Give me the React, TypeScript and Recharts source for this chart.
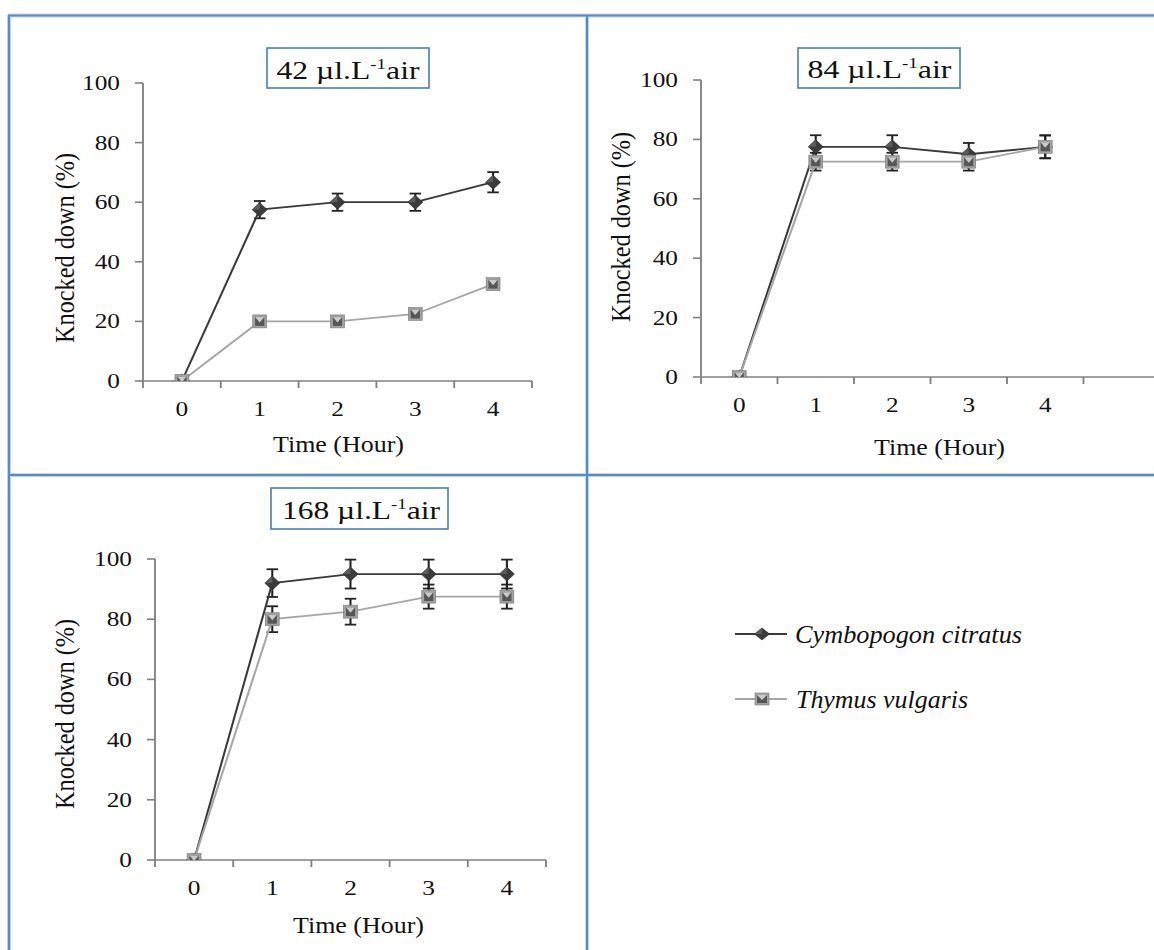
import React from "react";
import { LineChart, Line, XAxis, YAxis, ErrorBar } from "recharts";

const hours = [0, 1, 2, 3, 4];
const yTicks = [0, 20, 40, 60, 80, 100];
// excel-style tick marks sit between categories
const marks5 = [-0.5, 0.5, 1.5, 2.5, 3.5, 4.5];
const marks6 = [-0.5, 0.5, 1.5, 2.5, 3.5, 4.5, 5.5];

// 42 µl/L air
const cymb42 = [0, 57.5, 60, 60, 66.7];
const cymb42Err = [0, 2.9, 2.9, 2.9, 3.4];
const thym42 = [0, 20, 20, 22.5, 32.5];
const thym42Err = [0, 0, 0, 0, 0];

// 84 µl/L air
const cymb84 = [0, 77.5, 77.5, 75, 77.5];
const cymb84Err = [0, 3.9, 3.9, 3.8, 3.9];
const thym84 = [0, 72.5, 72.5, 72.5, 77.5];
const thym84Err = [0, 3, 3, 3, 3.8];

// 168 µl/L air
const cymb168 = [0, 92, 95, 95, 95];
const cymb168Err = [0, 4.6, 4.8, 4.8, 4.8];
const thym168 = [0, 80, 82.5, 87.5, 87.5];
const thym168Err = [0, 4.3, 4.3, 4, 4];

const SX = 1.15; // the source figure is stretched horizontally
const AXIS = "#808080";
const FRAME = "#5a8ac6";
const FONT = "Liberation Serif, Times New Roman, serif";

function diamond(cx: number, cy: number, w: number, h: number) {
  return (
    <g>
      <path d={`M${cx},${cy - h / 2} L${cx + w / 2},${cy} L${cx},${cy + h / 2} L${cx - w / 2},${cy} Z`} fill="#3b3b3b" stroke="#2a2a2a" strokeWidth={0.6} />
      <path d={`M${cx},${cy - h / 2} L${cx},${cy} L${cx - w / 2},${cy} Z`} fill="#5c5c5c" />
    </g>
  );
}

function square(cx: number, cy: number, w: number, h: number) {
  const x0 = cx - w / 2, y0 = cy - h / 2;
  return (
    <g>
      <rect x={x0} y={y0} width={w} height={h} fill="#a2a2a2" stroke="#7c7c7c" strokeWidth={0.6} />
      <rect x={x0 + 2} y={y0 + 2} width={w - 4} height={h - 4} fill="#565656" />
      <path d={`M${x0 + 2},${y0 + 2} L${x0 + w - 2},${y0 + 2} L${cx},${cy + 1} Z`} fill="#cacaca" />
    </g>
  );
}

const NoTick = () => <g />;

const YTick = (p: any) => (
  <text x={p.x} y={p.y + 7} textAnchor="end" fontSize={22} fontFamily={FONT} fill="#111">
    {p.payload.value}
  </text>
);

const XTick = (p: any) => (
  <text x={p.x} y={p.y + 34} textAnchor="middle" fontSize={22} fontFamily={FONT} fill="#111">
    {p.payload.value}
  </text>
);

interface PanelProps {
  axisX: number;
  plotRight: number;
  yTop: number;
  yBottom: number;
  marks: number[];
  cymb: number[];
  cymbErr: number[];
  thym: number[];
  thymErr: number[];
}

function Panel({ axisX, plotRight, yTop, yBottom, marks, cymb, cymbErr, thym, thymErr }: PanelProps) {
  const padL = 125, padR = 20, padT = 43, padB = 61;
  const left = axisX - padL;
  const w = (plotRight + padR - left) / SX;
  const top = yTop - padT;
  const h = yBottom - top + padB;
  const xMax = marks[marks.length - 1];
  const data = hours.map((t, i) => ({ t, c: cymb[i], ce: cymbErr[i], th: thym[i], te: thymErr[i] }));

  return (
    <div style={{ position: "absolute", left, top, width: w, height: h, transform: `scaleX(${SX})`, transformOrigin: "0 0" }}>
      <LineChart width={w} height={h} data={data} margin={{ top: padT, right: padR / SX, bottom: 12, left: 0 }}>
        <XAxis
          xAxisId="a"
          type="number"
          dataKey="t"
          domain={[-0.5, xMax]}
          ticks={marks}
          interval={0}
          tick={NoTick}
          tickSize={7}
          height={1}
          allowDataOverflow
          axisLine={{ stroke: AXIS, strokeWidth: 1.6 }}
          tickLine={{ stroke: AXIS, strokeWidth: 1.6 }}
        />
        <XAxis
          xAxisId="b"
          type="number"
          dataKey="t"
          domain={[-0.5, xMax]}
          ticks={hours}
          interval={0}
          tick={XTick}
          tickLine={false}
          axisLine={false}
          tickSize={0}
          tickMargin={0}
          height={48}
          allowDataOverflow
        />
        <YAxis
          type="number"
          domain={[0, 100]}
          ticks={yTicks}
          interval={0}
          width={padL / SX}
          tickSize={7}
          tickMargin={13}
          tick={YTick}
          allowDataOverflow
          axisLine={{ stroke: AXIS, strokeWidth: 1.6 }}
          tickLine={{ stroke: AXIS, strokeWidth: 1.6 }}
        />
        <Line
          xAxisId="a"
          dataKey="c"
          stroke="#3a3a3a"
          strokeWidth={1.8}
          isAnimationActive={false}
          activeDot={false}
          dot={(p: any) => <g key={`c${p.index}`}>{diamond(p.cx, p.cy, 13, 14)}</g>}
        >
          <ErrorBar dataKey="ce" direction="y" width={5} stroke="#222" strokeWidth={1.8} isAnimationActive={false} />
        </Line>
        <Line
          xAxisId="a"
          dataKey="th"
          stroke="#a6a6a6"
          strokeWidth={1.8}
          isAnimationActive={false}
          activeDot={false}
          dot={(p: any) => <g key={`t${p.index}`}>{square(p.cx, p.cy, 12, 13)}</g>}
        >
          <ErrorBar dataKey="te" direction="y" width={5} stroke="#222" strokeWidth={1.8} isAnimationActive={false} />
        </Line>
      </LineChart>
    </div>
  );
}

function Title({ x, y, w, h, tx, ty, tl, num }: { x: number; y: number; w: number; h: number; tx: number; ty: number; tl: number; num: string }) {
  return (
    <g>
      <rect x={x} y={y} width={w} height={h} fill="#fff" stroke="#4a7ebb" strokeWidth={1.6} />
      <text x={tx} y={ty} fontSize={25} fontFamily={FONT} fill="#111" textLength={tl} lengthAdjust="spacingAndGlyphs">
        {num} µl.L<tspan dy={-10} fontSize={15}>-1</tspan>
        <tspan dy={10}>air</tspan>
      </text>
    </g>
  );
}

function XTitle({ cx, y }: { cx: number; y: number }) {
  return (
    <text x={cx - 65.5} y={y} fontSize={23} fontFamily={FONT} fill="#111" textLength={131} lengthAdjust="spacingAndGlyphs">
      Time (Hour)
    </text>
  );
}

function YTitle({ bx, cy }: { bx: number; cy: number }) {
  return (
    <text
      transform={`translate(${bx},${cy}) scale(${SX},1) rotate(-90)`}
      x={-95}
      y={0}
      fontSize={24}
      fontFamily={FONT}
      fill="#111"
      textLength={190}
      lengthAdjust="spacingAndGlyphs"
    >
      Knocked down (%)
    </text>
  );
}

export default function App() {
  return (
    <div style={{ position: "absolute", left: 0, top: 0, width: 1154, height: 950, overflow: "hidden", background: "#fff" }}>
      <Panel axisX={143} plotRight={532} yTop={83} yBottom={381} marks={marks5} cymb={cymb42} cymbErr={cymb42Err} thym={thym42} thymErr={thym42Err} />
      <Panel axisX={701} plotRight={1160} yTop={80} yBottom={377} marks={marks6} cymb={cymb84} cymbErr={cymb84Err} thym={thym84} thymErr={thym84Err} />
      <Panel axisX={155} plotRight={546} yTop={559} yBottom={860} marks={marks5} cymb={cymb168} cymbErr={cymb168Err} thym={thym168} thymErr={thym168Err} />

      <svg width={1154} height={950} style={{ position: "absolute", left: 0, top: 0, pointerEvents: "none" }}>
        {/* table frame */}
        <g stroke="#c3d5ec" strokeWidth={4}>
          <line x1={8} y1={15.5} x2={1154} y2={15.5} />
          <line x1={9} y1={15} x2={9} y2={950} />
          <line x1={587} y1={15} x2={587} y2={950} />
          <line x1={8} y1={475} x2={1154} y2={475} />
        </g>
        <g stroke={FRAME} strokeWidth={2}>
          <line x1={8} y1={15.5} x2={1154} y2={15.5} />
          <line x1={9} y1={15} x2={9} y2={950} />
          <line x1={587} y1={15} x2={587} y2={950} />
          <line x1={8} y1={475} x2={1154} y2={475} />
        </g>

        <Title x={267} y={48} w={162} h={40} tx={276.5} ty={78.5} tl={143} num="42" />
        <Title x={798} y={48} w={162} h={40} tx={807.5} ty={77.5} tl={144} num="84" />
        <Title x={271} y={488} w={177} h={41} tx={282} ty={518.5} tl={158} num="168" />

        <XTitle cx={338.5} y={452} />
        <XTitle cx={939.5} y={455} />
        <XTitle cx={358.5} y={933} />

        <YTitle bx={74} cy={248} />
        <YTitle bx={629.5} cy={227} />
        <YTitle bx={74} cy={714} />

        {/* legend */}
        <line x1={735} y1={634} x2={787} y2={634} stroke="#3a3a3a" strokeWidth={2} />
        {diamond(762, 634, 15, 12)}
        <text x={795} y={643} fontSize={25} fontStyle="italic" fontFamily={FONT} fill="#111" textLength={227} lengthAdjust="spacingAndGlyphs">
          Cymbopogon citratus
        </text>
        <line x1={735} y1={699} x2={787} y2={699} stroke="#a6a6a6" strokeWidth={2} />
        {square(762, 699, 14, 12)}
        <text x={796} y={708} fontSize={25} fontStyle="italic" fontFamily={FONT} fill="#111" textLength={172} lengthAdjust="spacingAndGlyphs">
          Thymus vulgaris
        </text>
      </svg>
    </div>
  );
}
